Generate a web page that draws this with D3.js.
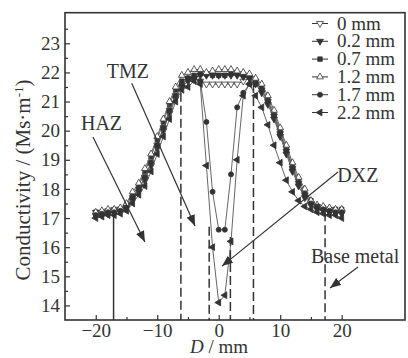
<!DOCTYPE html>
<html>
<head>
<meta charset="utf-8">
<script src="https://cdn.jsdelivr.net/npm/d3@7/dist/d3.min.js"></script>
<style>
  body { margin: 0; background: #fff; }
  svg { display: block; font-family: "Liberation Serif", "Times New Roman", serif; }
</style>
</head>
<body>
<svg id="chart" width="408" height="358"></svg>
<script>
// distance from weld centre, mm
var distances = [-20, -19, -18, -17, -16, -15, -14, -13, -12, -11, -10, -9, -8, -7, -6,
                 -5, -4, -3, -2, -1, 0, 1, 2, 3, 4, 5,
                 6, 7, 8, 9, 10, 11, 12, 13, 14, 15, 16, 17, 18, 19, 20];

var seriesNames = ["0 mm", "0.2 mm", "0.7 mm", "1.2 mm", "1.7 mm", "2.2 mm"];

// conductivity, MS/m
var depth00 = [17.2, 17.2, 17.25, 17.3, 17.3, 17.4, 17.7, 18.0, 18.4, 18.9, 19.5, 20.1, 20.7, 21.2, 21.5,
               21.8, 21.8, 21.7, 21.6, 21.6, 21.6, 21.6, 21.6, 21.6, 21.7, 21.8,
               21.7, 21.4, 21.0, 20.5, 19.9, 19.3, 18.7, 18.2, 17.8, 17.5, 17.4, 17.3, 17.3, 17.2, 17.2];
var depth02 = [17.1, 17.1, 17.15, 17.2, 17.25, 17.35, 17.6, 17.9, 18.3, 18.8, 19.4, 20.0, 20.6, 21.1, 21.5,
               21.7, 21.8, 21.9, 21.9, 21.9, 21.9, 21.9, 21.9, 21.9, 21.85, 21.8,
               21.6, 21.3, 20.9, 20.4, 19.8, 19.2, 18.6, 18.1, 17.7, 17.45, 17.3, 17.25, 17.2, 17.2, 17.15];
var depth07 = [17.2, 17.2, 17.2, 17.25, 17.3, 17.45, 17.8, 18.1, 18.6, 19.1, 19.7, 20.3, 20.9, 21.4, 21.7,
               21.8, 21.9, 21.95, 21.95, 21.9, 21.9, 21.9, 21.95, 21.95, 21.9, 21.85,
               21.7, 21.5, 21.1, 20.6, 20.0, 19.4, 18.8, 18.3, 17.9, 17.6, 17.4, 17.35, 17.3, 17.3, 17.3];
var depth12 = [17.2, 17.25, 17.3, 17.3, 17.35, 17.5, 17.9, 18.2, 18.7, 19.2, 19.8, 20.4, 21.0, 21.5, 21.9,
               22.0, 22.1, 22.1, 22.0, 22.05, 22.1, 22.1, 22.1, 22.05, 22.0, 21.95,
               21.8, 21.6, 21.2, 20.7, 20.1, 19.5, 18.9, 18.4, 18.0, 17.6, 17.45, 17.4, 17.35, 17.3, 17.3];
var depth17 = [17.1, 17.15, 17.2, 17.2, 17.25, 17.35, 17.7, 18.0, 18.4, 18.9, 19.5, 20.1, 20.7, 21.2, 21.6,
               21.8, 21.8, 21.7, 20.3, 17.9, 16.6, 16.6, 18.5, 20.8, 21.3, 21.6,
               21.6, 21.4, 21.0, 20.5, 19.9, 19.3, 18.7, 18.2, 17.8, 17.5, 17.4, 17.3, 17.25, 17.2, 17.2];
var depth22 = [17.0, 17.05, 17.1, 17.1, 17.15, 17.25, 17.5, 17.8, 18.1, 18.6, 19.2, 19.8, 20.4, 21.0, 21.4,
               21.5, 21.7, 21.6, 18.8, 16.0, 14.1, 14.35, 16.2, 19.0, 21.2, 21.6,
               21.2, 20.8, 20.2, 19.5, 18.9, 18.3, 17.9, 17.6, 17.4, 17.3, 17.2, 17.15, 17.1, 17.1, 17.0];

var seriesValues = [depth00, depth02, depth07, depth12, depth17, depth22];

// zone boundaries: position (mm) and conductivity where the marker line starts
var zoneEdges = [-17.1, -6.15, -1.55, 1.9, 5.65, 17.3];
var zoneEdgeTops = [17.05, 21.3, 16.7, 16.35, 21.6, 17.2];

var yTicks = [14, 15, 16, 17, 18, 19, 20, 21, 22, 23];
var yMinorTicks = [14.5, 15.5, 16.5, 17.5, 18.5, 19.5, 20.5, 21.5, 22.5, 23.5];
var xTicks = [-20, -10, 0, 10, 20];
var xMinorTicks = [-15, -5, 5, 15];

var ink = "#333";
var svg = d3.select("#chart");

var x = d3.scaleLinear().domain([-25, 30.3]).range([65, 405]);
var y = d3.scaleLinear().domain([13.5, 24.05]).range([320, 12.7]);

// axes, ticks pointing inward
svg.append("g")
    .attr("transform", "translate(65,0)")
    .call(d3.axisLeft(y).tickValues(yTicks).tickSize(-5).tickPadding(5).tickFormat(d3.format("d")));
svg.append("g")
    .attr("transform", "translate(65,0)")
    .call(d3.axisLeft(y).tickValues(yMinorTicks).tickSize(-3).tickFormat(""));

svg.append("g")
    .attr("transform", "translate(0,320)")
    .call(d3.axisBottom(x).tickValues(xTicks).tickSize(-5).tickPadding(4).tickFormat(d3.format("d")));
svg.append("g")
    .attr("transform", "translate(0,320)")
    .call(d3.axisBottom(x).tickValues(xMinorTicks).tickSize(-3).tickFormat(""));

svg.selectAll(".domain").remove();
svg.selectAll("g").attr("font-family", null).attr("font-size", null);
svg.selectAll(".tick line").attr("stroke", ink).attr("stroke-width", 1.2);
svg.selectAll(".tick text")
    .attr("fill", ink)
    .style("font-size", "19px");

// frame
svg.append("rect")
    .attr("x", x.range()[0]).attr("y", y.range()[1])
    .attr("width", x.range()[1] - x.range()[0])
    .attr("height", y.range()[0] - y.range()[1])
    .attr("fill", "none")
    .attr("stroke", ink)
    .attr("stroke-width", 1.6);

// zone boundary lines
svg.selectAll("line.zone")
    .data(zoneEdges)
  .enter().append("line")
    .attr("class", "zone")
    .attr("x1", function(d) { return x(d); })
    .attr("x2", function(d) { return x(d); })
    .attr("y1", function(d, i) { return y(zoneEdgeTops[i]); })
    .attr("y2", y(13.5))
    .attr("stroke", ink)
    .attr("stroke-width", 1.5)
    .attr("stroke-dasharray", function(d, i) { return i === 0 ? null : "9,4"; });

// series
var symbols = [
    { type: d3.symbolTriangle, rot: 180, open: true },
    { type: d3.symbolTriangle, rot: 180, open: false },
    { type: d3.symbolSquare, rot: 0, open: false },
    { type: d3.symbolTriangle, rot: 0, open: true },
    { type: d3.symbolCircle, rot: 0, open: false },
    { type: d3.symbolTriangle, rot: -90, open: false }
];
var symbolSize = 20;

var line = d3.line()
    .x(function(d) { return x(d[0]); })
    .y(function(d) { return y(d[1]); });

seriesValues.forEach(function(vals, s) {
    var pts = distances.map(function(d, i) { return [d, vals[i]]; });
    var g = svg.append("g").attr("class", "series");

    g.append("path")
        .datum(pts)
        .attr("d", line)
        .attr("fill", "none")
        .attr("stroke", "#555")
        .attr("stroke-width", 0.9);

    g.selectAll("path.pt")
        .data(pts)
      .enter().append("path")
        .attr("class", "pt")
        .attr("d", d3.symbol().type(symbols[s].type).size(symbolSize))
        .attr("transform", function(d) {
            return "translate(" + x(d[0]) + "," + y(d[1]) + ") rotate(" + symbols[s].rot + ")";
        })
        .attr("fill", symbols[s].open ? "#fff" : ink)
        .attr("stroke", ink)
        .attr("stroke-width", 0.8);
});

// legend
var legend = svg.append("g").attr("transform", "translate(320,23.5)");
var row = legend.selectAll("g")
    .data(seriesNames)
  .enter().append("g")
    .attr("transform", function(d, i) { return "translate(0," + i * 17.8 + ")"; });
row.append("line")
    .attr("x1", -8).attr("x2", 8)
    .attr("stroke", ink).attr("stroke-width", 1);
row.append("path")
    .attr("d", function(d, i) { return d3.symbol().type(symbols[i].type).size(symbolSize)(); })
    .attr("transform", function(d, i) { return "rotate(" + symbols[i].rot + ")"; })
    .attr("fill", function(d, i) { return symbols[i].open ? "#fff" : ink; })
    .attr("stroke", ink)
    .attr("stroke-width", 0.8);
row.append("text")
    .attr("x", 17)
    .attr("y", 6)
    .attr("fill", ink)
    .style("font-size", "19px")
    .text(function(d) { return d; });

// zone annotations with arrows
svg.append("defs").append("marker")
    .attr("id", "head")
    .attr("viewBox", "0 0 10 8")
    .attr("refX", 10).attr("refY", 4)
    .attr("markerWidth", 11).attr("markerHeight", 9)
    .attr("markerUnits", "userSpaceOnUse")
    .attr("orient", "auto")
  .append("path")
    .attr("d", "M0,0L10,4L0,8Z")
    .attr("fill", ink);

var notes = [
    { text: "HAZ", tx: -22.4, ty: 20.02, from: [-20.45, 19.78], to: [-12.0, 16.18] },
    { text: "TMZ", tx: -18.2, ty: 21.81, from: [-14.15, 21.63], to: [-3.85, 16.73] },
    { text: "DXZ", tx: 19.3, ty: 18.24, from: [19.4, 18.58], to: [0.54, 15.35] },
    { text: "Base metal", tx: 15.0, ty: 15.46, from: [22.66, 15.32], to: [18.1, 14.6] }
];

svg.selectAll("line.note")
    .data(notes)
  .enter().append("line")
    .attr("class", "note")
    .attr("x1", function(d) { return x(d.from[0]); })
    .attr("y1", function(d) { return y(d.from[1]); })
    .attr("x2", function(d) { return x(d.to[0]); })
    .attr("y2", function(d) { return y(d.to[1]); })
    .attr("stroke", ink)
    .attr("stroke-width", 1.2)
    .attr("marker-end", "url(#head)");

svg.selectAll("text.note")
    .data(notes)
  .enter().append("text")
    .attr("class", "note")
    .attr("x", function(d) { return x(d.tx); })
    .attr("y", function(d) { return y(d.ty); })
    .attr("fill", ink)
    .style("font-size", "20px")
    .text(function(d) { return d.text; });

// axis titles
var yTitle = svg.append("text")
    .attr("transform", "translate(30,180) rotate(-90)")
    .attr("text-anchor", "middle")
    .attr("fill", ink)
    .style("font-size", "21px");
yTitle.append("tspan").text("Conductivity / (Ms\u00b7m");
yTitle.append("tspan").attr("baseline-shift", "super").style("font-size", "13px").text("-1");
yTitle.append("tspan").text(")");

var xTitle = svg.append("text")
    .attr("x", 219)
    .attr("y", 353)
    .attr("text-anchor", "middle")
    .attr("fill", ink)
    .style("font-size", "19px");
xTitle.append("tspan").style("font-style", "italic").text("D");
xTitle.append("tspan").text(" / mm");
</script>
</body>
</html>
